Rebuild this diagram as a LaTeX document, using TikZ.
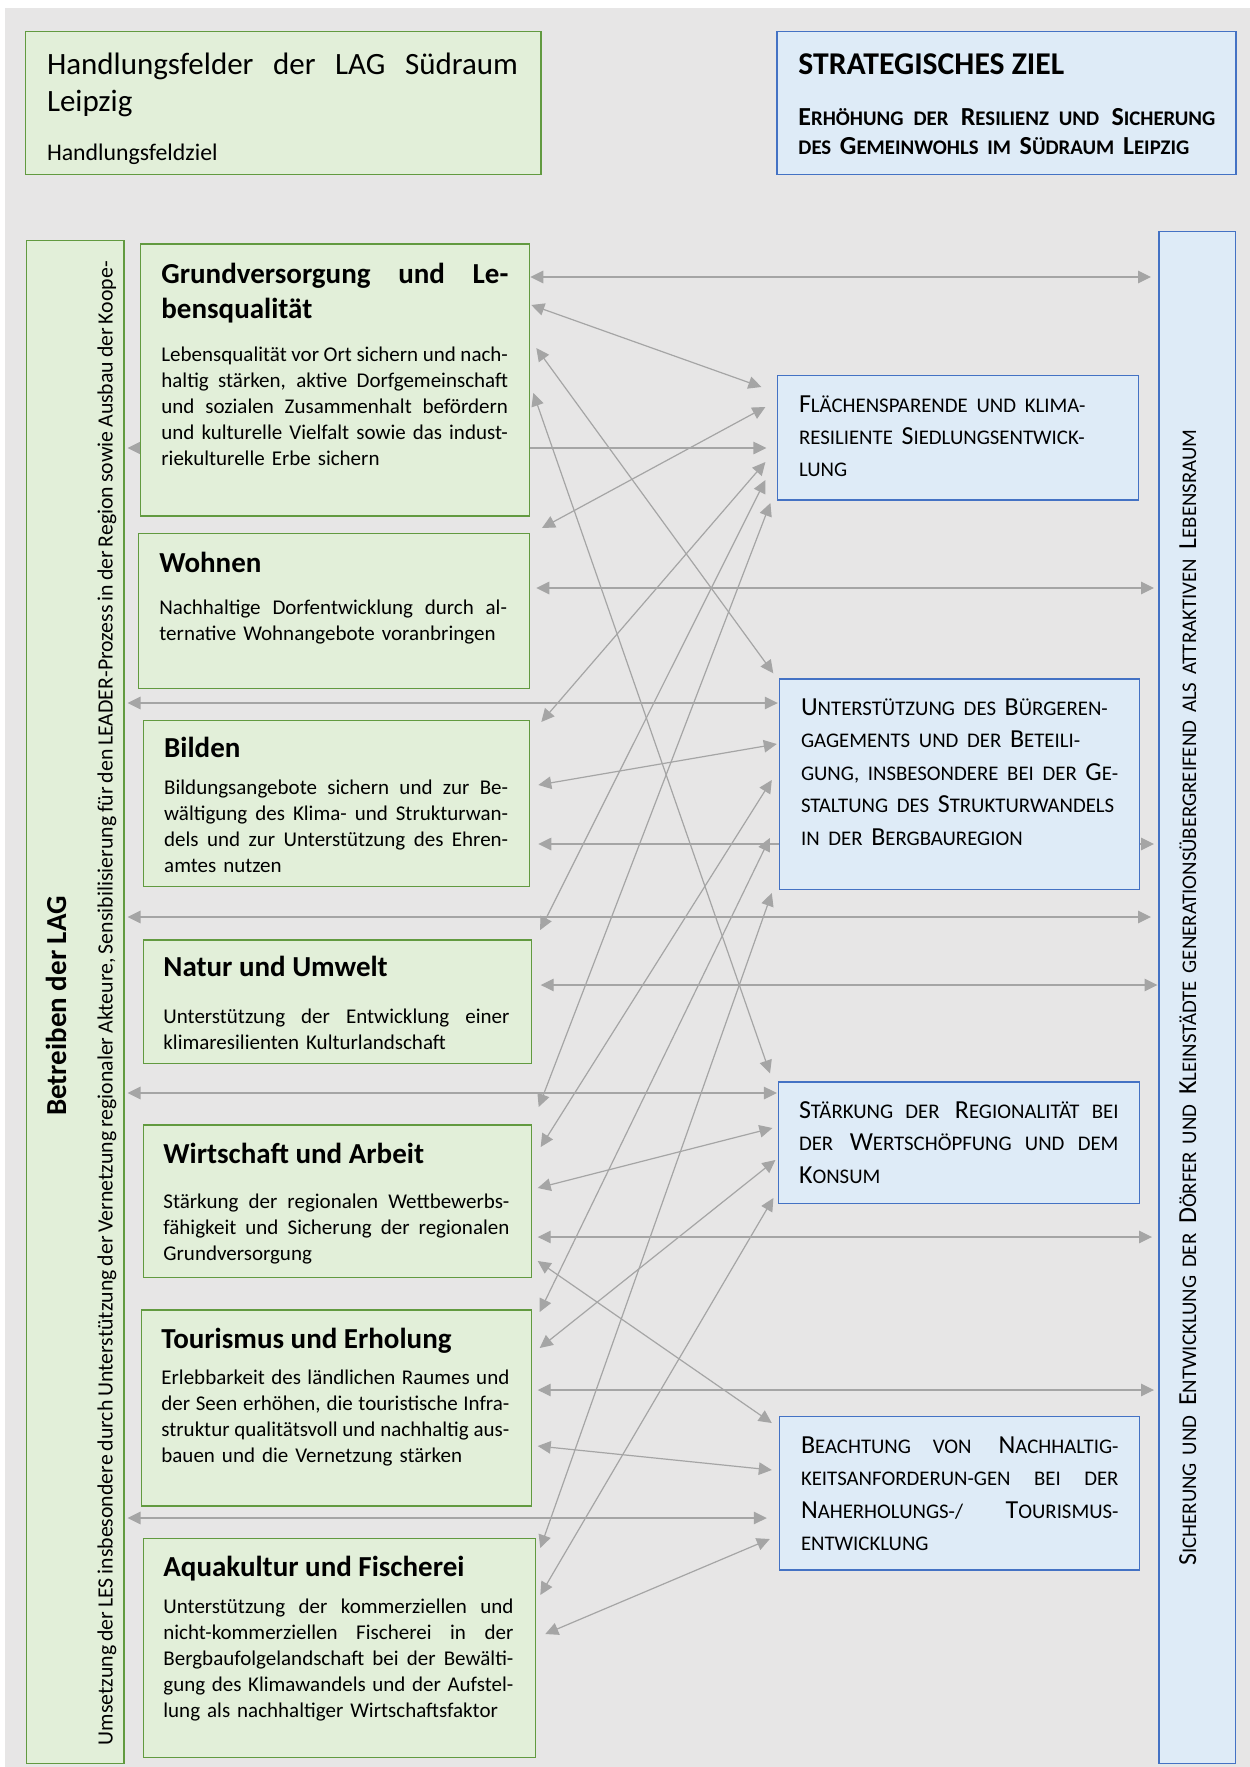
\documentclass[tikz,border=0pt]{standalone}
\usepackage{fontspec}
\setmainfont{Carlito}
\usetikzlibrary{arrows.meta,calc}
\pgfdeclarelayer{back}
\pgfdeclarelayer{arrowlayer}
\pgfsetlayers{back,arrowlayer,main}
\definecolor{bggray}{HTML}{E7E6E6}
\definecolor{gfill}{HTML}{E2EFD9}
\definecolor{gline}{HTML}{629A40}
\definecolor{bfill}{HTML}{DEEBF7}
\definecolor{bline}{HTML}{4472C4}
\definecolor{agray}{HTML}{A5A5A5}
\newcommand\skc[1]{{\fontsize{20.8pt}{20.8pt}\selectfont #1}}
\newcommand\jline[2]{{\spaceskip=0pt\xspaceskip=0pt\makebox[#1][s]{#2}}}
\begin{document}
\begin{tikzpicture}[x=1pt,y=-1pt,
  gbox/.style={draw=gline, fill=gfill, line width=1.3pt, anchor=north west, inner sep=0pt, outer sep=0pt},
  bbox/.style={draw=bline, fill=bfill, line width=1.3pt, anchor=north west, inner sep=0pt, outer sep=0pt},
  arr/.style={draw=agray, line width=1.2pt, arrows={Triangle[length=13pt,width=12.5pt]-Triangle[length=13pt,width=12.5pt]}},
  txt/.style={anchor=base west, inner sep=0pt, outer sep=0pt},
  ttl/.style={txt, font=\bfseries\fontsize{29pt}{35pt}\selectfont},
  body/.style={txt, font=\fontsize{21pt}{26pt}\selectfont},
  blue/.style={txt, font=\fontsize{26pt}{32.5pt}\selectfont},
  vtxt/.style={rotate=90, anchor=base, inner sep=0pt, outer sep=0pt}
]
\useasboundingbox (0,0) rectangle (1250,1767);
\begin{pgfonlayer}{back}
\fill[white] (0,0) rectangle (1250,1767);
\fill[bggray] (4.8,8) rectangle (1250,1767);
\end{pgfonlayer}

% boxes
\node[gbox, minimum width=515.5pt, minimum height=142.8pt] (tl) at (25.5,31.7) {};
\node[bbox, minimum width=459pt, minimum height=142.8pt] (tr) at (777,31.7) {};
\node[gbox, minimum width=97.3pt, minimum height=1522.6pt] (left) at (26.7,240.7) {};
\node[bbox, minimum width=76.6pt, minimum height=1531.6pt] (right) at (1159,231.7) {};
\node[gbox, minimum width=389pt, minimum height=272pt] (grund) at (140.3,244) {};
\node[gbox, minimum width=390.6pt, minimum height=154.8pt] (wohnen) at (138.7,533.5) {};
\node[gbox, minimum width=385.8pt, minimum height=166pt] (bilden) at (143.5,720.7) {};
\node[gbox, minimum width=388.2pt, minimum height=123.3pt] (natur) at (143.5,940) {};
\node[gbox, minimum width=388.2pt, minimum height=152.7pt] (wirt) at (143.5,1125) {};
\node[gbox, minimum width=390.2pt, minimum height=196pt] (tour) at (141.5,1310) {};
\node[gbox, minimum width=391.8pt, minimum height=219.4pt] (aqua) at (143.5,1538.3) {};
\node[bbox, minimum width=361.1pt, minimum height=124.3pt] (F) at (777.4,375.7) {};
\node[bbox, minimum width=359.7pt, minimum height=210.3pt] (U) at (779.8,679) {};
\node[bbox, minimum width=361.1pt, minimum height=121.3pt] (S) at (778.4,1082) {};
\node[bbox, minimum width=359.7pt, minimum height=153.3pt] (B) at (779.8,1416.7) {};

% connectors
\begin{pgfonlayer}{arrowlayer}
\draw[arr] ($(grund.east |- 0,277)+(1,0)$) -- ($(right.west |- 0,277)+(-8,0)$);
\draw[arr] ($(left.east |- 0,448)+(3.5,0)$) -- ($(F.west |- 0,448)+(-11,0)$);
\draw[arr] ($(wohnen.east |- 0,588)+(7,0)$) -- ($(right.west |- 0,588)+(-5,0)$);
\draw[arr] ($(left.east |- 0,703)+(3.5,0)$) -- ($(U.west |- 0,703)+(-2,0)$);
\draw[arr] ($(bilden.east |- 0,844)+(9,0)$) -- ($(right.west |- 0,844)+(-5,0)$);
\draw[arr] ($(left.east |- 0,917)+(3.5,0)$) -- ($(right.west |- 0,917)+(-8,0)$);
\draw[arr] ($(natur.east |- 0,985)+(9,0)$) -- ($(right.west |- 0,985)+(-1.5,0)$);
\draw[arr] ($(left.east |- 0,1093)+(3.5,0)$) -- ($(S.west |- 0,1093)+(-1.5,0)$);
\draw[arr] ($(wirt.east |- 0,1237)+(6,0)$) -- ($(right.west |- 0,1237)+(-7,0)$);
\draw[arr] ($(tour.east |- 0,1390)+(6,0)$) -- ($(right.west |- 0,1390)+(-5,0)$);
\draw[arr] ($(left.east |- 0,1518)+(3.5,0)$) -- ($(B.west |- 0,1518)+(-13,0)$);
\draw[arr] ($(grund.east |- 0,305)+(2,0)$) -- ($(F.west |- 0,387)+(-16,0)$);
\draw[arr] ($(wohnen.north east)+(12.7,-5.5)$) -- ($(F.west |- 0,407)+(-12,0)$);
\draw[arr] ($(grund.east |- 0,348)+(7,0)$) -- ($(U.north west)+(-6.5,-5.7)$);
\draw[arr] ($(grund.east |- 0,393)+(4,0)$) -- ($(S.north west)+(-8.4,-8.7)$);
\draw[arr] ($(bilden.east |- 0,722)+(12,0)$) -- ($(F.west |- 0,462)+(-12,0)$);
\draw[arr] ($(bilden.east |- 0,785)+(9,0)$) -- ($(U.west |- 0,744)+(-3,0)$);
\draw[arr] ($(natur.east |- 0,930)+(8.5,0)$) -- ($(F.west |- 0,480)+(-12,0)$);
\draw[arr] ($(wirt.east |- 0,1107)+(7,0)$) -- ($(F.west |- 0,503)+(-7,0)$);
\draw[arr] ($(wirt.east |- 0,1147)+(9,0)$) -- ($(U.west |- 0,780)+(-8,0)$);
\draw[arr] ($(wirt.east |- 0,1188)+(6,0)$) -- ($(S.west |- 0,1128)+(-6,0)$);
\draw[arr] ($(wirt.east |- 0,1261)+(6,0)$) -- ($(B.west |- 0,1423)+(-8,0)$);
\draw[arr] ($(tour.east |- 0,1312)+(8,0)$) -- ($(U.west |- 0,838)+(-10,0)$);
\draw[arr] ($(tour.east |- 0,1348)+(8,0)$) -- ($(S.west |- 0,1160)+(-3,0)$);
\draw[arr] ($(tour.east |- 0,1446)+(6,0)$) -- ($(B.west |- 0,1470)+(-8,0)$);
\draw[arr] ($(aqua.east |- 0,1548)+(5,0)$) -- ($(U.west |- 0,893)+(-8,0)$);
\draw[arr] ($(aqua.east |- 0,1595)+(5,0)$) -- ($(S.west |- 0,1198)+(-5,0)$);
\draw[arr] ($(aqua.east |- 0,1634)+(10,0)$) -- ($(B.west |- 0,1539)+(-10,0)$);
\end{pgfonlayer}

% header texts
\node[txt, text width=475pt, font=\fontsize{31pt}{36.7pt}\selectfont] (tlt) at (47,74.5)
  {\jline{471pt}{Handlungsfelder der LAG Südraum}\\Leipzig};
\node[txt, font=\fontsize{23.8pt}{28pt}\selectfont] (tls) at (47,160.3) {Handlungsfeldziel};
\node[txt, font=\bfseries\fontsize{31.7pt}{38pt}\selectfont] (trt) at (798.4,74.5) {STRATEGISCHES ZIEL};
\node[txt, text width=420pt, font=\bfseries\fontsize{26pt}{29pt}\selectfont] (trs) at (798.4,125.5)
  {\jline{417pt}{E\skc{RHÖHUNG DER} R\skc{ESILIENZ UND} S\skc{ICHERUNG}}\\
   \skc{DES} G\skc{EMEINWOHLS IM} S\skc{ÜDRAUM} L\skc{EIPZIG}};

% vertical texts
\node[vtxt, font=\bfseries\fontsize{29pt}{29pt}\selectfont] (lag) at (66,1006) {Betreiben der LAG};
\node[vtxt, font=\fontsize{21.8pt}{21.8pt}\selectfont] (les) at (112.5,1003)
  {\jline{1484pt}{Umsetzung der LES insbesondere durch Unterstützung der Vernetzung regionaler Akteure, Sensibilisierung für den LEADER-Prozess in der Region sowie Ausbau der Koope-}};
\node[vtxt, font=\fontsize{26pt}{26pt}\selectfont] (rtx) at (1196,997.5)
  {\jline{1136pt}{S\skc{ICHERUNG UND} E\skc{NTWICKLUNG DER} D\skc{ÖRFER UND} K\skc{LEINSTÄDTE GENERATIONSÜBERGREIFEND ALS ATTRAKTIVEN} L\skc{EBENSRAUM}}};

% green box texts
\node[ttl, text width=350pt] (t1) at (161.4,283.3) {\jline{347pt}{Grundversorgung und Le-}\\bensqualität};
\node[body, text width=350pt] (b1) at (161.4,361.7) {%
  \jline{346.6pt}{Lebensqualität vor Ort sichern und nach-}\\
  \jline{346.6pt}{haltig stärken, aktive Dorfgemeinschaft}\\
  \jline{346.6pt}{und sozialen Zusammenhalt befördern}\\
  \jline{346.6pt}{und kulturelle Vielfalt sowie das indust-}\\
  riekulturelle Erbe sichern};
\node[ttl] (t2) at (159.4,572.5) {Wohnen};
\node[body, text width=350pt] (b2) at (159.4,614.5) {%
  \jline{347.6pt}{Nachhaltige Dorfentwicklung durch al-}\\
  ternative Wohnangebote voranbringen};
\node[ttl] (t3) at (164.2,757.5) {Bilden};
\node[body, text width=350pt] (b3) at (164.2,794.3) {%
  \jline{344pt}{Bildungsangebote sichern und zur Be-}\\
  \jline{344pt}{wältigung des Klima- und Strukturwan-}\\
  \jline{344pt}{dels und zur Unterstützung des Ehren-}\\
  amtes nutzen};
\node[ttl] (t4) at (163.4,976.5) {Natur und Umwelt};
\node[body, text width=350pt] (b4) at (163.4,1023.5) {%
  \jline{346pt}{Unterstützung der Entwicklung einer}\\
  klimaresilienten Kulturlandschaft};
\node[ttl] (t5) at (163.4,1163) {Wirtschaft und Arbeit};
\node[body, text width=350pt] (b5) at (163.4,1208) {%
  \jline{346pt}{Stärkung der regionalen Wettbewerbs-}\\
  \jline{346pt}{fähigkeit und Sicherung der regionalen}\\
  Grundversorgung};
\node[ttl] (t6) at (161.4,1348) {Tourismus und Erholung};
\node[body, text width=352pt] (b6) at (161.4,1384.5) {%
  \jline{348pt}{Erlebbarkeit des ländlichen Raumes und}\\
  \jline{348pt}{der Seen erhöhen, die touristische Infra-}\\
  \jline{348pt}{struktur qualitätsvoll und nachhaltig aus-}\\
  bauen und die Vernetzung stärken};
\node[ttl] (t7) at (163.4,1576.5) {Aquakultur und Fischerei};
\node[body, text width=354pt] (b7) at (163.4,1613) {%
  \jline{350pt}{Unterstützung der kommerziellen und}\\
  \jline{350pt}{nicht-kommerziellen Fischerei in der}\\
  \jline{350pt}{Bergbaufolgelandschaft bei der Bewälti-}\\
  \jline{350pt}{gung des Klimawandels und der Aufstel-}\\
  lung als nachhaltiger Wirtschaftsfaktor};

% blue box texts
\node[blue, text width=335pt, font=\fontsize{26pt}{31.9pt}\selectfont] (fx) at (799,412.7) {%
  F\skc{LÄCHENSPARENDE UND KLIMA-}\\
  \skc{RESILIENTE} S\skc{IEDLUNGSENTWICK-}\\
  \skc{LUNG}};
\node[blue, text width=335pt] (ux) at (801,715) {%
  U\skc{NTERSTÜTZUNG DES} B\skc{ÜRGEREN-}\\
  \skc{GAGEMENTS UND DER} B\skc{ETEILI-}\\
  \skc{GUNG, INSBESONDERE BEI DER} G\skc{E-}\\
  \skc{STALTUNG DES} S\skc{TRUKTURWANDELS}\\
  \skc{IN DER} B\skc{ERGBAUREGION}};
\node[blue, text width=335pt] (sx) at (799,1118.3) {%
  \jline{319.5pt}{S\skc{TÄRKUNG DER} R\skc{EGIONALITÄT BEI}}\\
  \jline{319.5pt}{\skc{DER} W\skc{ERTSCHÖPFUNG UND DEM}}\\
  K\skc{ONSUM}};
\node[blue, text width=335pt] (bx) at (801,1453.3) {%
  \jline{317.5pt}{B\skc{EACHTUNG VON} N\skc{ACHHALTIG-}}\\
  \jline{317.5pt}{\skc{KEITSANFORDERUN-GEN BEI DER}}\\
  \jline{317.5pt}{N\skc{AHERHOLUNGS-/} T\skc{OURISMUS-}}\\
  \skc{ENTWICKLUNG}};
\end{tikzpicture}
\end{document}
